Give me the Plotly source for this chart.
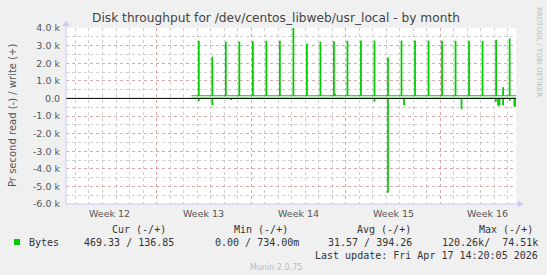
import plotly.graph_objects as go
import pandas as pd

# ---------------- data ----------------
window_start = "2026-03-15 07:10"
window_end = "2026-04-17 14:20:05"
data_start = "2026-03-24 14:00"

# daily write spikes (Bytes/s, positive = write)
spike_times = [
    "2026-03-25 02:30", "2026-03-26 02:30", "2026-03-27 02:30", "2026-03-28 02:30",
    "2026-03-29 02:30", "2026-03-30 02:30", "2026-03-31 02:30", "2026-04-01 02:30",
    "2026-04-02 02:30", "2026-04-03 02:30", "2026-04-04 02:30", "2026-04-05 02:30",
    "2026-04-06 02:30", "2026-04-07 02:30", "2026-04-08 02:30", "2026-04-09 02:30",
    "2026-04-10 02:30", "2026-04-11 02:30", "2026-04-12 02:30", "2026-04-13 02:30",
    "2026-04-14 02:30", "2026-04-15 02:30", "2026-04-16 02:30", "2026-04-17 02:30",
]
write_peaks = [
    3240, 2330, 3180, 3200, 3220, 3240, 3240, 4040,
    3090, 3180, 3220, 3240, 3260, 3260, 2290, 3260,
    3260, 3260, 3240, 3240, 3240, 3240, 3300, 3370,
]
write_extra_times = ["2026-04-04 04:30", "2026-04-16 15:00"]
write_extra_vals = [230, 600]
write_base = 150
write_cur = 136.85

# read dips (negative = read)
read_times = [
    "2026-03-25 02:30", "2026-03-26 02:30", "2026-03-27 12:00", "2026-04-07 02:30",
    "2026-04-08 02:30", "2026-04-09 07:00", "2026-04-13 13:00", "2026-04-16 02:00",
    "2026-04-16 06:00", "2026-04-16 08:30", "2026-04-16 15:00", "2026-04-17 03:00",
    "2026-04-17 11:00",
]
read_vals = [-130, -360, -50, -150, -5330, -360, -580, -150, -380, -380, -360, -100, -440]
read_base = 0
read_cur = -469.33

week_starts = ["2026-03-22", "2026-03-29", "2026-04-05", "2026-04-12"]
week_label_times = ["2026-03-18 12:00", "2026-03-25 12:00", "2026-04-01 12:00",
                    "2026-04-08 12:00", "2026-04-15 12:00"]
week_labels = ["Week 12", "Week 13", "Week 14", "Week 15", "Week 16"]

y_tick_vals = [4000, 3000, 2000, 1000, 0, -1000, -2000, -3000, -4000, -5000, -6000]
y_tick_text = ["4.0 k", "3.0 k", "2.0 k", "1.0 k", "0.0", "-1.0 k", "-2.0 k",
               "-3.0 k", "-4.0 k", "-5.0 k", "-6.0 k"]

legend_cols = ["Cur (-/+)", "Min (-/+)", "Avg (-/+)", "Max (-/+)"]
legend_vals = ["469.33 / 136.85", "0.00 / 734.00m", "31.57 / 394.26", "120.26k/  74.51k"]

# ---------------- layout geometry ----------------
W, H = 547, 275
L, R, T, B = 66, 516, 28, 204
PW, PH = R - L, B - T


def px(xp):
    return (xp - L) / PW


def py(yp):
    return (B - yp) / PH


def build(times, vals, start, base, end, cur):
    ev = sorted(zip(pd.to_datetime(times), vals))
    xs = [pd.Timestamp(start)]
    ys = [base]
    for t, v in ev:
        xs += [t, t + pd.Timedelta(hours=1)]
        ys += [v, base]
    xs.append(pd.Timestamp(end))
    ys.append(cur)
    return xs, ys


wx, wy = build(spike_times + write_extra_times, write_peaks + write_extra_vals,
               data_start, write_base, window_end, write_cur)
rx, ry = build(read_times, read_vals, data_start, read_base, window_end, read_cur)

GREEN = "#00CC00"
fig = go.Figure()
fig.add_trace(go.Scatter(x=rx, y=ry, mode="lines", line=dict(color=GREEN, width=1.2, shape="hv"),
                         showlegend=False, hoverinfo="skip"))
fig.add_trace(go.Scatter(x=wx, y=wy, mode="lines", line=dict(color=GREEN, width=1.2, shape="hv"),
                         showlegend=False, hoverinfo="skip"))

RED_GRID = "rgba(225,110,110,0.38)"
GREY_GRID = "rgba(175,175,175,0.6)"
AXIS_COL = "#C8C8F4"
TXT = "#555555"

fig.update_layout(
    width=W, height=H,
    margin=dict(l=L, r=W - R, t=T, b=H - B, pad=0),
    paper_bgcolor="#F0F0F0",
    plot_bgcolor="#FFFFFF",
    font=dict(family="DejaVu Sans", color=TXT),
    title=dict(text="Disk throughput for /dev/centos_libweb/usr_local - by month",
               x=276 / W, xanchor="center", xref="container",
               y=1 - 18 / H, yanchor="middle", yref="container",
               font=dict(family="DejaVu Sans", size=12.2, color="#444444")),
    xaxis=dict(type="date", range=[window_start, window_end], automargin=False,
               showticklabels=False, ticks="",
               tickmode="array", tickvals=week_starts,
               showgrid=True, gridcolor=RED_GRID, griddash="dot", gridwidth=1,
               minor=dict(dtick=86400000, tick0="2026-03-15", showgrid=True,
                          gridcolor=GREY_GRID, griddash="dot", gridwidth=1),
               zeroline=False, showline=False),
    yaxis=dict(range=[-6000, 4000], automargin=False, tickmode="array",
               tickvals=y_tick_vals, ticktext=y_tick_text, ticks="",
               ticklabelstandoff=5,
               tickfont=dict(family="DejaVu Sans", size=9.5, color=TXT),
               showgrid=True, gridcolor=RED_GRID, griddash="dot", gridwidth=1,
               minor=dict(dtick=500, tick0=0, showgrid=True,
                          gridcolor=GREY_GRID, griddash="dot", gridwidth=1),
               zeroline=False, showline=False),
    showlegend=False,
)

shapes = []
# zero line (black) on top
shapes.append(dict(type="line", xref="paper", yref="y", x0=0, x1=1, y0=0, y1=0,
                   line=dict(color="#000000", width=1), layer="above"))
# axes lines with arrows
shapes.append(dict(type="line", xref="paper", yref="paper", x0=px(L), x1=px(520),
                   y0=py(B), y1=py(B), line=dict(color=AXIS_COL, width=1), layer="above"))
shapes.append(dict(type="line", xref="paper", yref="paper", x0=px(L), x1=px(L),
                   y0=py(B), y1=py(23), line=dict(color=AXIS_COL, width=1), layer="above"))
shapes.append(dict(type="path", xref="paper", yref="paper",
                   path=f"M {px(518)} {py(200.5)} L {px(523.5)} {py(204)} L {px(518)} {py(207.5)} Z",
                   fillcolor=AXIS_COL, line=dict(width=0), layer="above"))
shapes.append(dict(type="path", xref="paper", yref="paper",
                   path=f"M {px(62.5)} {py(26)} L {px(L)} {py(20.5)} L {px(69.5)} {py(26)} Z",
                   fillcolor=AXIS_COL, line=dict(width=0), layer="above"))
# legend colour square
shapes.append(dict(type="rect", xref="paper", yref="paper", x0=px(14), x1=px(20),
                   y0=py(245), y1=py(239), fillcolor=GREEN, line=dict(width=0)))
fig.update_layout(shapes=shapes)

ann = []
# week labels
for t, lab in zip(week_label_times, week_labels):
    ann.append(dict(x=t, xref="x", y=py(213.5), yref="paper", text=lab, showarrow=False,
                    xanchor="center", yanchor="middle",
                    font=dict(family="DejaVu Sans", size=9.5, color=TXT)))
# y-axis title
ann.append(dict(x=px(12), y=py(116), xref="paper", yref="paper",
                text="Pr second read (-) / write (+)", textangle=-90, showarrow=False,
                xanchor="center", yanchor="middle",
                font=dict(family="DejaVu Sans", size=10, color=TXT)))
# rrdtool credit
ann.append(dict(x=px(539), y=py(5), xref="paper", yref="paper",
                text="RRDTOOL / TOBI OETIKER", textangle=90, showarrow=False,
                xanchor="center", yanchor="top",
                font=dict(family="DejaVu Sans", size=7, color="#BBBBBB")))
MONO = "DejaVu Sans Mono"
LEG = "#333333"
col_centers = [139, 261, 384, 506]
for c, lab in zip(col_centers, legend_cols):
    ann.append(dict(x=px(c), y=py(229), xref="paper", yref="paper", text=lab, showarrow=False,
                    xanchor="center", yanchor="middle", font=dict(family=MONO, size=10, color=LEG)))
ann.append(dict(x=px(26.5), y=py(242), xref="paper", yref="paper", text="Bytes", showarrow=False,
                xanchor="left", yanchor="middle", font=dict(family=MONO, size=10, color=LEG)))
val_right = [176, 301, 414, 540]
for r, v in zip(val_right, legend_vals):
    ann.append(dict(x=px(r), y=py(242), xref="paper", yref="paper", text=v.replace(" ", "&nbsp;"),
                    showarrow=False, xanchor="right", yanchor="middle",
                    font=dict(family=MONO, size=10, color=LEG)))
ann.append(dict(x=px(540), y=py(255), xref="paper", yref="paper",
                text="Last update: Fri Apr 17 14:20:05 2026", showarrow=False,
                xanchor="right", yanchor="middle", font=dict(family=MONO, size=10, color=LEG)))
ann.append(dict(x=px(276), y=py(267.5), xref="paper", yref="paper", text="Munin 2.0.75",
                showarrow=False, xanchor="center", yanchor="middle",
                font=dict(family="DejaVu Sans", size=8, color="#BBBBBB")))
fig.update_layout(annotations=ann)

fig.write_html("out.html")
